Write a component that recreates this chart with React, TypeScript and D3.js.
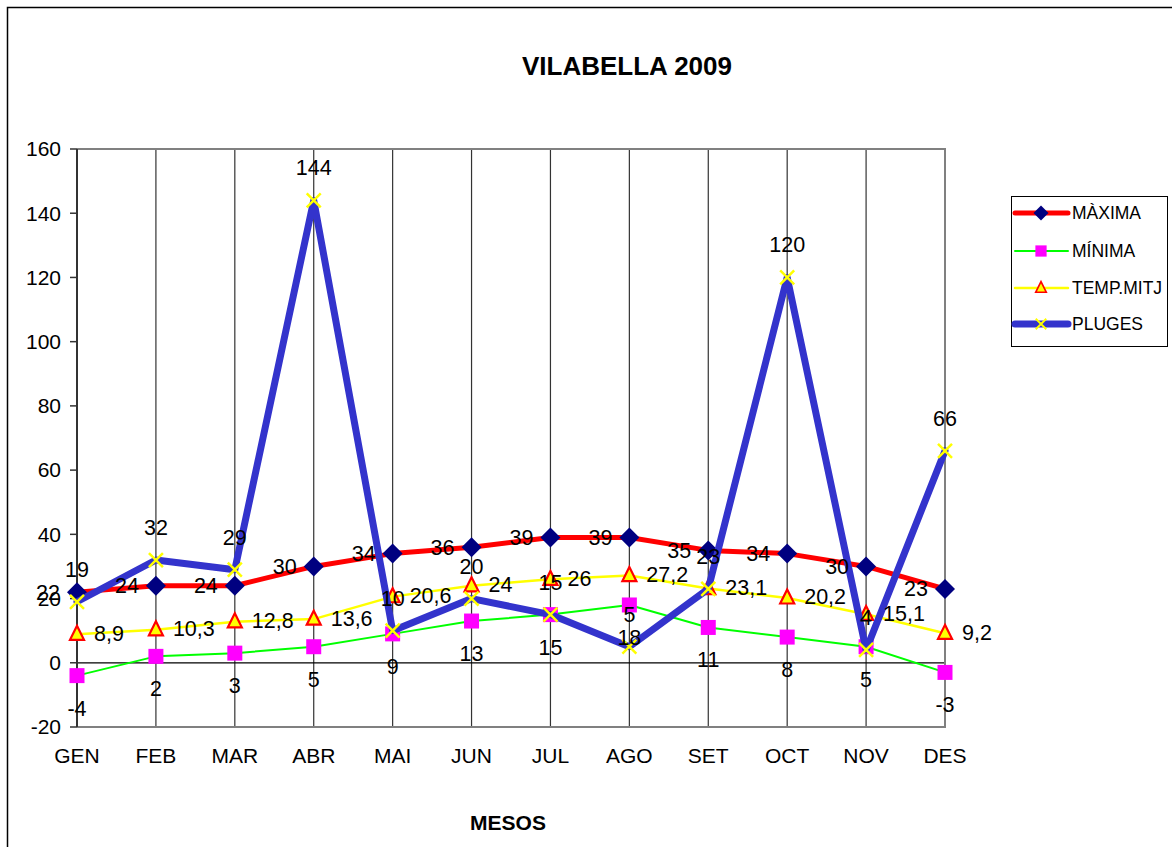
import React from "react";
import * as d3 from "d3";

const months = ["GEN", "FEB", "MAR", "ABR", "MAI", "JUN", "JUL", "AGO", "SET", "OCT", "NOV", "DES"];
const maxima = [22, 24, 24, 30, 34, 36, 39, 39, 35, 34, 30, 23];
const minima = [-4, 2, 3, 5, 9, 13, 15, 18, 11, 8, 5, -3];
const tempMitj = [8.9, 10.3, 12.8, 13.6, 20.6, 24, 26, 27.2, 23.1, 20.2, 15.1, 9.2];
const pluges = [19, 32, 29, 144, 10, 20, 15, 5, 23, 120, 4, 66];
const yTicks = [-20, 0, 20, 40, 60, 80, 100, 120, 140, 160];
const legendNames = ["MÀXIMA", "MÍNIMA", "TEMP.MITJ", "PLUGES"];

const FONT = "'Liberation Sans', Arial, Helvetica, sans-serif";
const fmt = (v: number) => String(v).replace(".", ",");

const diamond = (r: number) => `M0,${-r}L${r},0L0,${r}L${-r},0Z`;
const square = (h: number) => `M${-h},${-h}H${h}V${h}H${-h}Z`;
const triangle = (w: number, h: number) => `M0,${-h * 0.6}L${w / 2},${h * 0.4}L${-w / 2},${h * 0.4}Z`;
const cross = (r: number) => `M${-r},${-r}L${r},${r}M${r},${-r}L${-r},${r}`;

function Marker({ kind, x, y, scale = 1 }: { kind: number; x: number; y: number; scale?: number }) {
  const t = `translate(${x},${y}) scale(${scale})`;
  if (kind === 0) return <path d={diamond(10)} transform={t} fill="#000080" />;
  if (kind === 1) return <path d={square(7.5)} transform={t} fill="#FF00FF" />;
  if (kind === 2)
    return <path d={triangle(14, 14)} transform={t} fill="#FFFF00" stroke="#FF0000" strokeWidth={2.2} strokeLinejoin="miter" />;
  return <path d={cross(7)} transform={t} fill="none" stroke="#FFFF00" strokeWidth={2.5} />;
}

export default function App() {
  const W = 1172;
  const H = 847;
  const x = d3.scalePoint<string>().domain(months).range([77, 945]);
  const y = d3.scaleLinear().domain([-20, 160]).range([727, 149]);

  const series = [
    { data: maxima, color: "#FF0000", width: 5 },
    { data: minima, color: "#00FF00", width: 2 },
    { data: tempMitj, color: "#FFFF00", width: 2.5 },
    { data: pluges, color: "#3333CC", width: 7 },
  ];

  const line = (data: number[]) =>
    d3
      .line<number>()
      .x((_, i) => x(months[i]) as number)
      .y((d) => y(d))(data) as string;

  const [x0, x1] = x.range();
  const [yb, yt] = y.range();

  const legendY = [213, 251, 288, 324];
  const LF = 21.5;

  return (
    <svg
      width={W}
      height={H}
      style={{ position: "absolute", left: 0, top: 0, background: "#fff" }}
      fontFamily={FONT}
    >
      <rect x={0} y={0} width={W} height={H} fill="#fff" />
      <rect x={7.5} y={7.5} width={W + 20} height={H + 20} fill="none" stroke="#000" strokeWidth={1.5} />

      {/* title */}
      <text x={627} y={75} textAnchor="middle" fontSize={26} fontWeight="bold" fill="#000">
        VILABELLA 2009
      </text>

      {/* vertical gridlines */}
      {months.map((m) => (
        <line key={m} x1={x(m)} x2={x(m)} y1={yt} y2={yb} stroke="#333" strokeWidth={1.2} />
      ))}
      {/* zero line */}
      <line x1={x0} x2={x1} y1={y(0)} y2={y(0)} stroke="#000" strokeWidth={1.2} />
      {/* plot border */}
      <path d={`M${x0},${yt}H${x1}V${yb}H${x0}`} fill="none" stroke="#808080" strokeWidth={2} />
      {/* y axis */}
      <line x1={x0} x2={x0} y1={yt} y2={yb} stroke="#333" strokeWidth={2} />
      {yTicks.map((t) => (
        <g key={t}>
          <line x1={x0 - 7} x2={x0} y1={y(t)} y2={y(t)} stroke="#333" strokeWidth={1.5} />
          <text x={61} y={y(t)} dy="0.35em" textAnchor="end" fontSize={21} fill="#000">
            {t}
          </text>
        </g>
      ))}
      {/* category labels */}
      {months.map((m) => (
        <text key={m} x={x(m)} y={763} textAnchor="middle" fontSize={21} fill="#000">
          {m}
        </text>
      ))}
      <text x={508} y={830} textAnchor="middle" fontSize={21} fontWeight="bold" fill="#000">
        MESOS
      </text>

      {/* series */}
      {series.map((s, si) => (
        <g key={si}>
          <path d={line(s.data)} fill="none" stroke={s.color} strokeWidth={s.width} strokeLinejoin="round" strokeLinecap="round" />
          {s.data.map((v, i) => (
            <Marker key={i} kind={si} x={x(months[i]) as number} y={y(v)} />
          ))}
        </g>
      ))}

      {/* data labels */}
      {maxima.map((v, i) => (
        <text key={"mx" + i} x={(x(months[i]) as number) - 17} y={y(v)} dy="0.35em" textAnchor="end" fontSize={LF}>
          {fmt(v)}
        </text>
      ))}
      {minima.map((v, i) => (
        <text key={"mn" + i} x={x(months[i]) as number} y={y(v) + 40} textAnchor="middle" fontSize={LF}>
          {fmt(v)}
        </text>
      ))}
      {tempMitj.map((v, i) => (
        <text key={"tm" + i} x={(x(months[i]) as number) + 17} y={y(v)} dy="0.3em" textAnchor="start" fontSize={LF}>
          {fmt(v)}
        </text>
      ))}
      {pluges.map((v, i) => (
        <text key={"pl" + i} x={x(months[i]) as number} y={y(v) - 25} textAnchor="middle" fontSize={LF}>
          {fmt(v)}
        </text>
      ))}

      {/* legend */}
      <rect x={1011.5} y={196.5} width={156} height={150} fill="#fff" stroke="#000" strokeWidth={1} />
      {legendNames.map((n, i) => (
        <g key={n}>
          <line
            x1={1015}
            x2={1068}
            y1={legendY[i]}
            y2={legendY[i]}
            stroke={series[i].color}
            strokeWidth={series[i].width}
            strokeLinecap="round"
          />
          <Marker kind={i} x={1041} y={legendY[i]} scale={0.75} />
          <text x={1072} y={legendY[i]} dy="0.35em" fontSize={17.5} fill="#000">
            {n}
          </text>
        </g>
      ))}
    </svg>
  );
}
